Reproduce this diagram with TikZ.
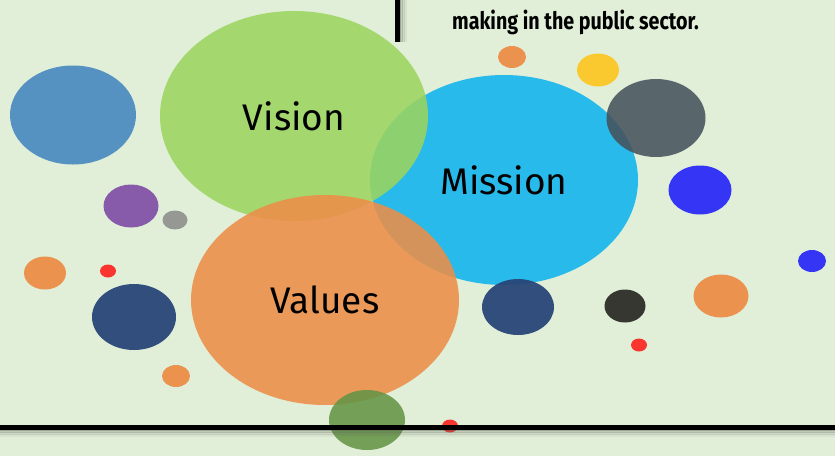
\documentclass[tikz,border=0pt]{standalone}
\usepackage{fontspec}
\setmainfont{Fira Sans}
\definecolor{vmv_bg}{RGB}{225, 239, 216}
\definecolor{vmv_green}{RGB}{156, 212, 96}
\definecolor{vmv_cyan}{RGB}{30, 184, 236}
\definecolor{vmv_orange}{RGB}{236, 142, 72}
\definecolor{vmv_steel}{RGB}{78, 140, 192}
\definecolor{vmv_purple}{RGB}{132, 84, 168}
\definecolor{vmv_grey}{RGB}{146, 148, 144}
\definecolor{vmv_red}{RGB}{252, 44, 40}
\definecolor{vmv_navy}{RGB}{40, 70, 120}
\definecolor{vmv_olive}{RGB}{100, 148, 70}
\definecolor{vmv_yellow}{RGB}{252, 200, 40}
\definecolor{vmv_slate}{RGB}{70, 82, 92}
\definecolor{vmv_blue}{RGB}{44, 44, 248}
\definecolor{vmv_black}{RGB}{44, 46, 40}
\usepackage{tikz}
\usetikzlibrary{shapes.geometric}

\begin{document}
\begin{tikzpicture}[x=1pt, y=-1pt,
            blob/.style={ellipse, inner sep=0pt, fill opacity=0.95, text opacity=1},
            big/.style={blob, fill opacity=0.88, minimum width=268pt, minimum height=210pt,
                        font=\fontsize{37}{40}\selectfont},
            rule/.style={line width=5pt, black}]
            \fill[vmv_bg] (0,0) rectangle (835,456);
            \useasboundingbox (0,0) rectangle (835,456);
            % small circles
            \node[blob, fill=vmv_steel, minimum width=126pt, minimum height=99pt] (c1) at (73,115) {};
            \node[blob, fill=vmv_purple, minimum width=55pt, minimum height=43pt] (c2) at (131,206) {};
            \node[blob, fill=vmv_grey, minimum width=25pt, minimum height=19pt] (c3) at (175,220) {};
            \node[blob, fill=vmv_orange, minimum width=42pt, minimum height=33pt] (c4) at (45,273) {};
            \node[blob, fill=vmv_red, minimum width=16pt, minimum height=13pt] (c5) at (108,271) {};
            \node[blob, fill=vmv_navy, minimum width=84pt, minimum height=66pt] (c6) at (134,317) {};
            \node[blob, fill=vmv_orange, minimum width=28pt, minimum height=22pt] (c7) at (176,376) {};
            \node[blob, fill=vmv_orange, minimum width=28pt, minimum height=22pt] (c8) at (512,57) {};
            \node[blob, fill=vmv_yellow, minimum width=42pt, minimum height=33pt] (c9) at (598,70) {};
            \node[blob, fill=vmv_blue, minimum width=63pt, minimum height=49pt] (c10) at (700,190) {};
            \node[blob, fill=vmv_blue, minimum width=28pt, minimum height=22pt] (c11) at (812,261) {};
            \node[blob, fill=vmv_orange, minimum width=55pt, minimum height=43pt] (c12) at (721,296) {};
            \node[blob, fill=vmv_black, minimum width=41pt, minimum height=33pt] (c13) at (625,306) {};
            \node[blob, fill=vmv_red, minimum width=16pt, minimum height=13pt] (c14) at (639,345) {};
            % the three big ones
            \node[big, fill=vmv_cyan, fill opacity=0.95] (mission) at (504,180) {Mission};
            \node[big, fill=vmv_green] (vision) at (294,116) {Vision};
            \node[big, fill=vmv_orange] (values) at (325,300) {Values};
            \node[blob, fill=vmv_slate, fill opacity=0.88, minimum width=99pt, minimum height=78pt] (c15) at (656,118) {};
            \node[blob, fill=vmv_navy, minimum width=72pt, minimum height=56pt] (c16) at (518,307) {};
            \node[blob, fill=vmv_olive, fill opacity=0.88, minimum width=76pt, minimum height=60pt] (c17) at (367,420) {};
            \node[blob, fill=vmv_red, minimum width=16pt, minimum height=13pt] (c18) at (450,426) {};
            % rules with a soft shadow
            \coordinate (hl) at (0,427);
            \coordinate (hr) at (835,427);
            \coordinate (vt) at (397,0);
            \coordinate (vb) at (397,42);
            \foreach \d/\o in {2/0.35, 4/0.25, 6/0.15, 8/0.08} {
              \draw[line width=3pt, black!60!vmv_bg, opacity=\o] ([yshift=-\d pt]hl) -- ([yshift=-\d pt]hr);
              \draw[line width=3pt, black!60!vmv_bg, opacity=\o] ([xshift=\d pt]vt) -- ([xshift=\d pt]vb);
            }
            \draw[rule] (hl) -- (hr);
            \draw[rule] (vt) -- (vb);
            \node[anchor=west, font=\bfseries\fontsize{24}{26}\selectfont, inner sep=0pt] (tagline) at (452,22)
              {\scalebox{0.82}[1]{making in the public sector.}};
          \end{tikzpicture}
\end{document}
